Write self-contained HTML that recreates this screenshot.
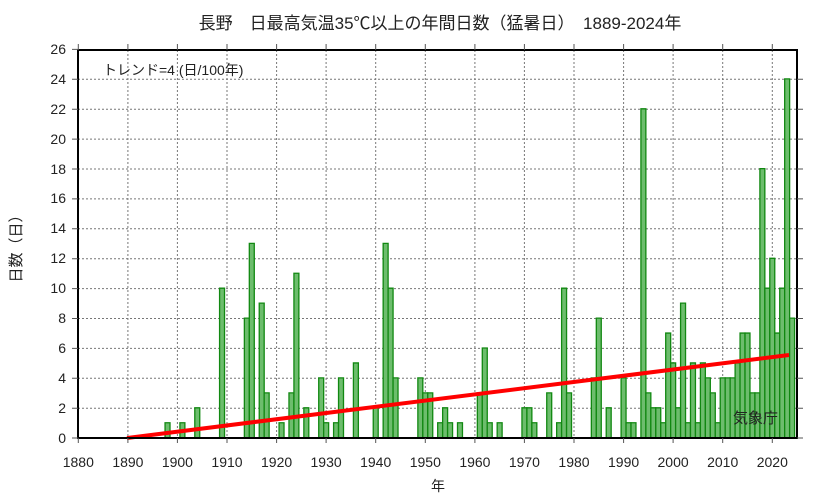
<!DOCTYPE html>
<html><head><meta charset="utf-8"><style>
body{margin:0;background:#fff}
svg text{font-family:"Liberation Sans","Noto Sans CJK JP",sans-serif;fill:#222}
</style></head><body>
<svg width="833" height="498" viewBox="0 0 833 498" xmlns="http://www.w3.org/2000/svg">
<rect width="833" height="498" fill="#fff"/>
<text x="440" y="29" font-size="17" text-anchor="middle">長野　日最高気温35℃以上の年間日数（猛暑日）　1889-2024年</text>
<g stroke="#777" stroke-width="1" stroke-dasharray="2,2">
<line x1="127.9" y1="50" x2="127.9" y2="438"/><line x1="177.4" y1="50" x2="177.4" y2="438"/><line x1="227" y1="50" x2="227" y2="438"/><line x1="276.6" y1="50" x2="276.6" y2="438"/><line x1="326.1" y1="50" x2="326.1" y2="438"/><line x1="375.7" y1="50" x2="375.7" y2="438"/><line x1="425.3" y1="50" x2="425.3" y2="438"/><line x1="474.9" y1="50" x2="474.9" y2="438"/><line x1="524.4" y1="50" x2="524.4" y2="438"/><line x1="574" y1="50" x2="574" y2="438"/><line x1="623.6" y1="50" x2="623.6" y2="438"/><line x1="673.1" y1="50" x2="673.1" y2="438"/><line x1="722.7" y1="50" x2="722.7" y2="438"/><line x1="772.3" y1="50" x2="772.3" y2="438"/>
<line x1="78" y1="408.2" x2="797" y2="408.2"/><line x1="78" y1="378.3" x2="797" y2="378.3"/><line x1="78" y1="348.4" x2="797" y2="348.4"/><line x1="78" y1="318.5" x2="797" y2="318.5"/><line x1="78" y1="288.6" x2="797" y2="288.6"/><line x1="78" y1="258.7" x2="797" y2="258.7"/><line x1="78" y1="228.8" x2="797" y2="228.8"/><line x1="78" y1="198.9" x2="797" y2="198.9"/><line x1="78" y1="169" x2="797" y2="169"/><line x1="78" y1="139.1" x2="797" y2="139.1"/><line x1="78" y1="109.2" x2="797" y2="109.2"/><line x1="78" y1="79.3" x2="797" y2="79.3"/>
</g>
<g transform="translate(78.3,437.7) scale(4.957,-14.95)" fill="#6dbd6d" stroke="#118811" stroke-width="1.3">
<g style="vector-effect:non-scaling-stroke">
<rect x="17.5" y="0" width="1" height="1" vector-effect="non-scaling-stroke"/>
<rect x="20.5" y="0" width="1" height="1" vector-effect="non-scaling-stroke"/>
<rect x="23.5" y="0" width="1" height="2" vector-effect="non-scaling-stroke"/>
<rect x="28.5" y="0" width="1" height="10" vector-effect="non-scaling-stroke"/>
<rect x="33.5" y="0" width="1" height="8" vector-effect="non-scaling-stroke"/>
<rect x="34.5" y="0" width="1" height="13" vector-effect="non-scaling-stroke"/>
<rect x="36.5" y="0" width="1" height="9" vector-effect="non-scaling-stroke"/>
<rect x="37.5" y="0" width="1" height="3" vector-effect="non-scaling-stroke"/>
<rect x="40.5" y="0" width="1" height="1" vector-effect="non-scaling-stroke"/>
<rect x="42.5" y="0" width="1" height="3" vector-effect="non-scaling-stroke"/>
<rect x="43.5" y="0" width="1" height="11" vector-effect="non-scaling-stroke"/>
<rect x="45.5" y="0" width="1" height="2" vector-effect="non-scaling-stroke"/>
<rect x="48.5" y="0" width="1" height="4" vector-effect="non-scaling-stroke"/>
<rect x="49.5" y="0" width="1" height="1" vector-effect="non-scaling-stroke"/>
<rect x="51.5" y="0" width="1" height="1" vector-effect="non-scaling-stroke"/>
<rect x="52.5" y="0" width="1" height="4" vector-effect="non-scaling-stroke"/>
<rect x="55.5" y="0" width="1" height="5" vector-effect="non-scaling-stroke"/>
<rect x="59.5" y="0" width="1" height="2" vector-effect="non-scaling-stroke"/>
<rect x="61.5" y="0" width="1" height="13" vector-effect="non-scaling-stroke"/>
<rect x="62.5" y="0" width="1" height="10" vector-effect="non-scaling-stroke"/>
<rect x="63.5" y="0" width="1" height="4" vector-effect="non-scaling-stroke"/>
<rect x="68.5" y="0" width="1" height="4" vector-effect="non-scaling-stroke"/>
<rect x="69.5" y="0" width="1" height="3" vector-effect="non-scaling-stroke"/>
<rect x="70.5" y="0" width="1" height="3" vector-effect="non-scaling-stroke"/>
<rect x="72.5" y="0" width="1" height="1" vector-effect="non-scaling-stroke"/>
<rect x="73.5" y="0" width="1" height="2" vector-effect="non-scaling-stroke"/>
<rect x="74.5" y="0" width="1" height="1" vector-effect="non-scaling-stroke"/>
<rect x="76.5" y="0" width="1" height="1" vector-effect="non-scaling-stroke"/>
<rect x="80.5" y="0" width="1" height="3" vector-effect="non-scaling-stroke"/>
<rect x="81.5" y="0" width="1" height="6" vector-effect="non-scaling-stroke"/>
<rect x="82.5" y="0" width="1" height="1" vector-effect="non-scaling-stroke"/>
<rect x="84.5" y="0" width="1" height="1" vector-effect="non-scaling-stroke"/>
<rect x="89.5" y="0" width="1" height="2" vector-effect="non-scaling-stroke"/>
<rect x="90.5" y="0" width="1" height="2" vector-effect="non-scaling-stroke"/>
<rect x="91.5" y="0" width="1" height="1" vector-effect="non-scaling-stroke"/>
<rect x="94.5" y="0" width="1" height="3" vector-effect="non-scaling-stroke"/>
<rect x="96.5" y="0" width="1" height="1" vector-effect="non-scaling-stroke"/>
<rect x="97.5" y="0" width="1" height="10" vector-effect="non-scaling-stroke"/>
<rect x="98.5" y="0" width="1" height="3" vector-effect="non-scaling-stroke"/>
<rect x="103.5" y="0" width="1" height="4" vector-effect="non-scaling-stroke"/>
<rect x="104.5" y="0" width="1" height="8" vector-effect="non-scaling-stroke"/>
<rect x="106.5" y="0" width="1" height="2" vector-effect="non-scaling-stroke"/>
<rect x="109.5" y="0" width="1" height="4" vector-effect="non-scaling-stroke"/>
<rect x="110.5" y="0" width="1" height="1" vector-effect="non-scaling-stroke"/>
<rect x="111.5" y="0" width="1" height="1" vector-effect="non-scaling-stroke"/>
<rect x="113.5" y="0" width="1" height="22" vector-effect="non-scaling-stroke"/>
<rect x="114.5" y="0" width="1" height="3" vector-effect="non-scaling-stroke"/>
<rect x="115.5" y="0" width="1" height="2" vector-effect="non-scaling-stroke"/>
<rect x="116.5" y="0" width="1" height="2" vector-effect="non-scaling-stroke"/>
<rect x="117.5" y="0" width="1" height="1" vector-effect="non-scaling-stroke"/>
<rect x="118.5" y="0" width="1" height="7" vector-effect="non-scaling-stroke"/>
<rect x="119.5" y="0" width="1" height="5" vector-effect="non-scaling-stroke"/>
<rect x="120.5" y="0" width="1" height="2" vector-effect="non-scaling-stroke"/>
<rect x="121.5" y="0" width="1" height="9" vector-effect="non-scaling-stroke"/>
<rect x="122.5" y="0" width="1" height="1" vector-effect="non-scaling-stroke"/>
<rect x="123.5" y="0" width="1" height="5" vector-effect="non-scaling-stroke"/>
<rect x="124.5" y="0" width="1" height="1" vector-effect="non-scaling-stroke"/>
<rect x="125.5" y="0" width="1" height="5" vector-effect="non-scaling-stroke"/>
<rect x="126.5" y="0" width="1" height="4" vector-effect="non-scaling-stroke"/>
<rect x="127.5" y="0" width="1" height="3" vector-effect="non-scaling-stroke"/>
<rect x="128.5" y="0" width="1" height="1" vector-effect="non-scaling-stroke"/>
<rect x="129.5" y="0" width="1" height="4" vector-effect="non-scaling-stroke"/>
<rect x="130.5" y="0" width="1" height="4" vector-effect="non-scaling-stroke"/>
<rect x="131.5" y="0" width="1" height="4" vector-effect="non-scaling-stroke"/>
<rect x="132.5" y="0" width="1" height="5" vector-effect="non-scaling-stroke"/>
<rect x="133.5" y="0" width="1" height="7" vector-effect="non-scaling-stroke"/>
<rect x="134.5" y="0" width="1" height="7" vector-effect="non-scaling-stroke"/>
<rect x="135.5" y="0" width="1" height="3" vector-effect="non-scaling-stroke"/>
<rect x="136.5" y="0" width="1" height="3" vector-effect="non-scaling-stroke"/>
<rect x="137.5" y="0" width="1" height="18" vector-effect="non-scaling-stroke"/>
<rect x="138.5" y="0" width="1" height="10" vector-effect="non-scaling-stroke"/>
<rect x="139.5" y="0" width="1" height="12" vector-effect="non-scaling-stroke"/>
<rect x="140.5" y="0" width="1" height="7" vector-effect="non-scaling-stroke"/>
<rect x="141.5" y="0" width="1" height="10" vector-effect="non-scaling-stroke"/>
<rect x="142.5" y="0" width="1" height="24" vector-effect="non-scaling-stroke"/>
<rect x="143.5" y="0" width="1" height="8" vector-effect="non-scaling-stroke"/>
</g></g>
<line x1="127" y1="438" x2="789" y2="355" stroke="#ff0000" stroke-width="4"/>
<g stroke="#000" fill="none">
<path d="M78,50 V438 H797 V50 Z" stroke-width="2"/>
<path d="M72,438H78M72,408.2H78M72,378.3H78M72,348.4H78M72,318.5H78M72,288.6H78M72,258.7H78M72,228.8H78M72,198.9H78M72,169H78M72,139.1H78M72,109.2H78M72,79.3H78M72,49.4H78" stroke="#555"/>
<path d="M797,438H803M797,408.2H803M797,378.3H803M797,348.4H803M797,318.5H803M797,288.6H803M797,258.7H803M797,228.8H803M797,198.9H803M797,169H803M797,139.1H803M797,109.2H803M797,79.3H803" stroke="#555"/>
<path d="M78.3,438v5M127.9,438v5M177.4,438v5M227,438v5M276.6,438v5M326.1,438v5M375.7,438v5M425.3,438v5M474.9,438v5M524.4,438v5M574,438v5M623.6,438v5M673.1,438v5M722.7,438v5M772.3,438v5" stroke="#555"/>
<path d="M78.3,50v-6M127.9,50v-6M177.4,50v-6M227,50v-6M276.6,50v-6M326.1,50v-6M375.7,50v-6M425.3,50v-6M474.9,50v-6M524.4,50v-6M574,50v-6M623.6,50v-6M673.1,50v-6M722.7,50v-6M772.3,50v-6" stroke="#555"/>
</g>
<g font-size="14" text-anchor="end">
<text x="66" y="443">0</text><text x="66" y="413">2</text><text x="66" y="383">4</text><text x="66" y="353">6</text><text x="66" y="323">8</text><text x="66" y="293">10</text><text x="66" y="263">12</text><text x="66" y="233">14</text><text x="66" y="203">16</text><text x="66" y="174">18</text><text x="66" y="144">20</text><text x="66" y="114">22</text><text x="66" y="84">24</text><text x="66" y="54">26</text>
</g>
<g font-size="14" text-anchor="middle">
<text x="78.3" y="467">1880</text><text x="127.9" y="467">1890</text><text x="177.4" y="467">1900</text><text x="227" y="467">1910</text><text x="276.6" y="467">1920</text><text x="326.1" y="467">1930</text><text x="375.7" y="467">1940</text><text x="425.3" y="467">1950</text><text x="474.9" y="467">1960</text><text x="524.4" y="467">1970</text><text x="574" y="467">1980</text><text x="623.6" y="467">1990</text><text x="673.1" y="467">2000</text><text x="722.7" y="467">2010</text><text x="772.3" y="467">2020</text>
<text x="438" y="491">年</text>
</g>
<text x="103" y="75" font-size="14">トレンド=4 (日/100年)</text>
<text x="733" y="423" font-size="15">気象庁</text>
<text transform="translate(21,245) rotate(-90)" font-size="15" text-anchor="middle">日数（日）</text>
</svg>
</body></html>
